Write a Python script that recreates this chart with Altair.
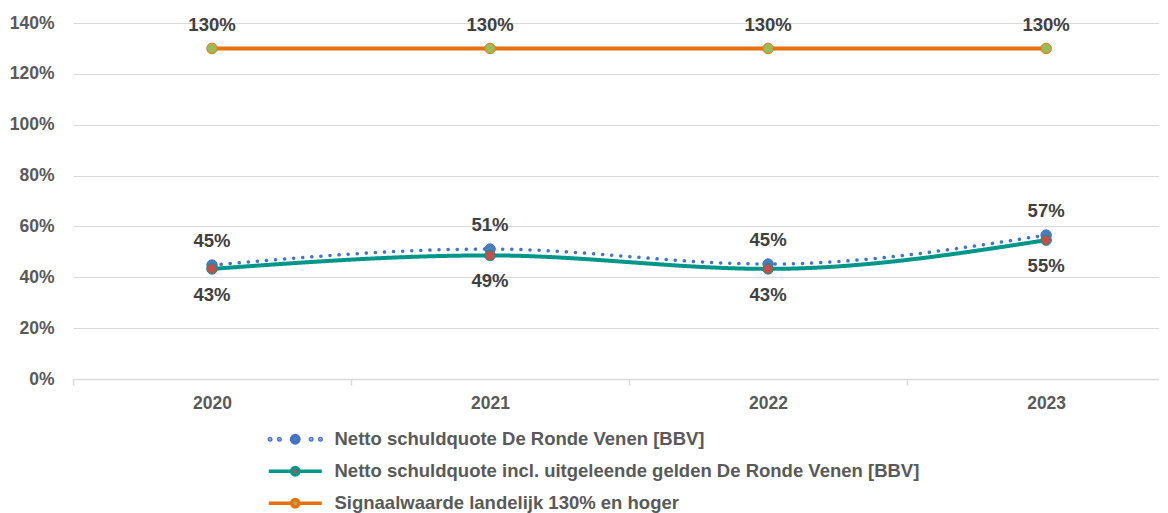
import altair as alt
import pandas as pd

# ---- data -------------------------------------------------------------
years = [2020, 2021, 2022, 2023]
series_names = [
    "Netto schuldquote De Ronde Venen [BBV]",
    "Netto schuldquote incl. uitgeleende gelden De Ronde Venen [BBV]",
    "Signaalwaarde landelijk 130% en hoger",
]
netto = [44.8, 51.1, 45.2, 56.6]
netto_incl = [43.3, 48.6, 43.3, 54.6]
signaal = [130, 130, 130, 130]

y_ticks = [0, 20, 40, 60, 80, 100, 120, 140]
x_ticks = [2019.5, 2020, 2020.5, 2021, 2021.5, 2022, 2022.5, 2023]

line_colors = ["#4472C4", "#00968A", "#E8700E"]
marker_colors = ["#4A7EBB", "#C0504D", "#9BBB59"]

rows = []
for name, vals in zip(series_names, [netto, netto_incl, signaal]):
    for yr, v in zip(years, vals):
        rows.append({"series": name, "year": yr, "value": v})
df = pd.DataFrame(rows)

# ---- helpers ------------------------------------------------------------
FONT = "Liberation Sans"
FS = 17.5
FS_BIG = 18.5
K = 5.3  # legend path half-length in symbol units (symbolSize 100 -> 5px/unit)

def circ(cx, r):
    return (f"M{cx - r},0A{r},{r},0,1,0,{cx + r},0A{r},{r},0,1,0,{cx - r},0Z")

dot_path = "".join(circ(c * K, 0.15) for c in [-0.95, -0.6, 0.6, 0.95]) + circ(0, 0.74)
solid_path = f"M{-K},0H-0.74M0.74,0H{K}" + circ(0, 0.74)
legend_paths = [dot_path, solid_path, solid_path]

x_enc = alt.X(
    "year:Q",
    scale=alt.Scale(domain=[2019.5, 2023.406], nice=False, zero=False),
    axis=alt.Axis(
        values=x_ticks,
        labelExpr="datum.value % 1 == 0 ? datum.value : ''",
        tickOpacity={"condition": {"test": "datum.value % 1 == 0", "value": 0}, "value": 1},
        grid=False,
        title=None,
        labelOverlap=False,
        labelFlush=False,
    ),
)
y_enc = alt.Y(
    "value:Q",
    scale=alt.Scale(domain=[0, 140], nice=False),
    axis=alt.Axis(
        values=y_ticks,
        labelExpr="datum.value + '%'",
        title=None,
        domain=False,
        ticks=False,
        tickSize=0,
        labelPadding=19,
    ),
)

stroke_scale = alt.Scale(domain=series_names, range=line_colors)
fill_scale = alt.Scale(domain=series_names, range=marker_colors)

base = alt.Chart(df)

leg = alt.Legend(
    title=None,
    orient="none",
    legendX=213,
    legendY=407,
    direction="vertical",
    labelFont=FONT,
    labelFontSize=FS_BIG,
    labelFontWeight="bold",
    labelColor="#595959",
    labelLimit=2000,
    labelOffset=30,
    symbolSize=100,
    symbolStrokeWidth=3.5,
    rowPadding=10,
    padding=0,
)

# legend-only layer (draws no marks); placed first so its legend wins the merge
legend_layer = base.transform_filter("datum.year < 0").mark_point(filled=False, opacity=1).encode(
    x=x_enc, y=y_enc,
    shape=alt.Shape("series:N", scale=alt.Scale(domain=series_names, range=legend_paths), legend=leg),
    stroke=alt.Stroke("series:N", scale=stroke_scale, legend=leg),
    fill=alt.Fill("series:N", scale=fill_scale, legend=leg),
)

def line_layer(idx, dash, width):
    return base.transform_filter(alt.datum.series == series_names[idx]).mark_line(
        interpolate="monotone", strokeWidth=width, strokeDash=dash, strokeCap="round"
    ).encode(
        x=x_enc, y=y_enc,
        stroke=alt.Stroke("series:N", scale=stroke_scale, legend=None),
    )

orange_line = line_layer(2, [1, 0], 4)
teal_line = line_layer(1, [1, 0], 4)
blue_line = line_layer(0, [0.1, 9], 3.5)

points = base.mark_point(filled=False, size=110, strokeWidth=1, opacity=1).encode(
    x=x_enc, y=y_enc,
    stroke=alt.Stroke("series:N", scale=stroke_scale, legend=None),
    fill=alt.Fill("series:N", scale=fill_scale, legend=None),
    order=alt.Order("series:N"),
)

def label_layer(idx, dy):
    return base.transform_filter(alt.datum.series == series_names[idx]).transform_calculate(
        label="format(datum.value, '.0f') + '%'"
    ).mark_text(
        dy=dy, font=FONT, fontSize=FS_BIG, fontWeight="bold", color="#404040"
    ).encode(x=x_enc, y=y_enc, text="label:N")

labels = label_layer(0, -24) + label_layer(1, 26) + label_layer(2, -23)

chart = alt.layer(
    legend_layer, orange_line, teal_line, blue_line, points, labels
).properties(
    width=1086, height=356,
    padding={"left": 1, "top": 6, "right": 0, "bottom": 0},
).configure_view(stroke=None).configure_axis(
    labelFont=FONT,
    labelFontSize=FS,
    labelFontWeight="bold",
    labelColor="#595959",
    gridColor="#D9D9D9",
    gridWidth=1,
    domainColor="#D9D9D9",
    domainWidth=1.5,
    tickColor="#D9D9D9",
    tickWidth=1.5,
    tickSize=6,
    labelPadding=9,
).configure_axisY(tickSize=0, labelPadding=19)

chart.save("out.html", embed_options={"renderer": "svg", "actions": False})
